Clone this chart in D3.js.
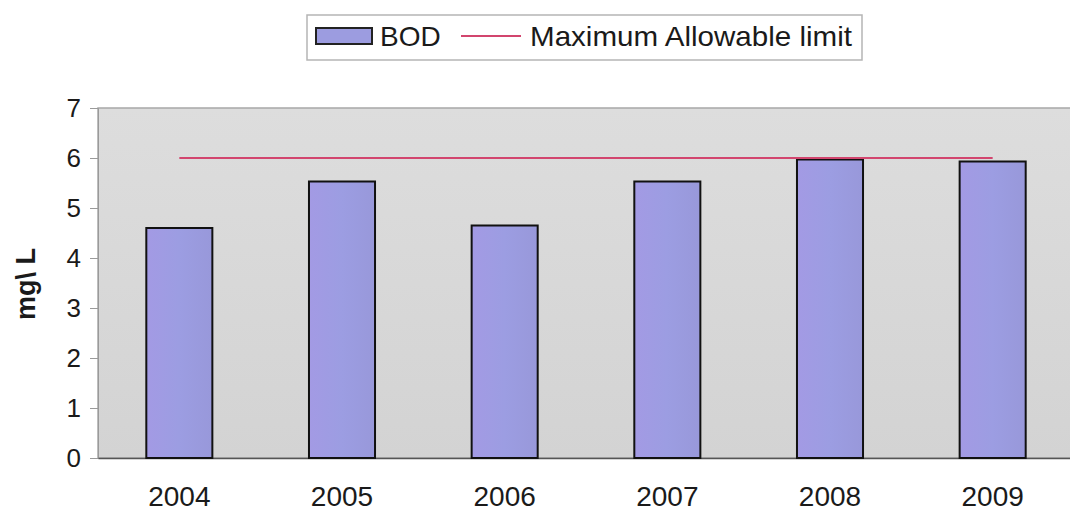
<!DOCTYPE html>
<html>
<head>
<meta charset="utf-8">
<script src="https://cdn.jsdelivr.net/npm/d3@7"></script>
<style>
  html, body { margin: 0; padding: 0; background: #fff; }
  svg { display: block; font-family: "Liberation Sans", Arial, sans-serif; }
</style>
</head>
<body>
<svg id="chart" width="1070" height="522"></svg>
<script>
// Annual BOD readings against the maximum allowable limit
const years = ["2004", "2005", "2006", "2007", "2008", "2009"];
const bodValues = [4.6, 5.53, 4.65, 5.53, 5.97, 5.93];
const limitValues = [6, 6, 6, 6, 6, 6];
const yTicks = [0, 1, 2, 3, 4, 5, 6, 7];

const svg = d3.select("#chart");
const plot = { left: 98, top: 108, right: 1074, bottom: 458 };

const x = d3.scaleBand()
  .domain(years)
  .range([plot.left, plot.right])
  .paddingInner(0.594)
  .paddingOuter(0.297);

const y = d3.scaleLinear()
  .domain([0, 7])
  .range([plot.bottom, plot.top]);

// plot area background
const defs = svg.append("defs");
const grad = defs.append("linearGradient")
  .attr("id", "plotBg").attr("x1", 0).attr("y1", 0).attr("x2", 0).attr("y2", 1);
grad.append("stop").attr("offset", "0%").attr("stop-color", "#dddddd");
grad.append("stop").attr("offset", "100%").attr("stop-color", "#d3d3d3");

const barGrad = defs.append("linearGradient")
  .attr("id", "barFill").attr("x1", 0).attr("y1", 0).attr("x2", 1).attr("y2", 0);
barGrad.append("stop").attr("offset", "0%").attr("stop-color", "#a39ae4");
barGrad.append("stop").attr("offset", "50%").attr("stop-color", "#9c9de2");
barGrad.append("stop").attr("offset", "100%").attr("stop-color", "#9898da");

svg.append("rect")
  .attr("x", plot.left).attr("y", plot.top)
  .attr("width", plot.right - plot.left).attr("height", plot.bottom - plot.top)
  .attr("fill", "url(#plotBg)")
  .attr("stroke", "#a8a8a8").attr("stroke-width", 1.5);

// y axis
const yAxis = svg.append("g")
  .attr("transform", `translate(${plot.left},0)`)
  .call(d3.axisLeft(y).tickValues(yTicks).tickSize(8).tickPadding(9).tickFormat(d3.format("d")));
yAxis.select(".domain").attr("stroke", "#9a9a9a");
yAxis.selectAll(".tick line").attr("stroke", "#9a9a9a");
yAxis.selectAll(".tick text")
  .attr("font-size", 26).attr("fill", "#1a1a1a")
  .attr("font-family", "Liberation Sans, Arial, sans-serif");

// x axis
const xAxis = svg.append("g")
  .attr("transform", `translate(0,${plot.bottom})`)
  .call(d3.axisBottom(x).tickSize(0).tickPadding(28));
xAxis.select(".domain").attr("stroke", "#555").attr("stroke-width", 1.5);
xAxis.selectAll(".tick text")
  .attr("font-size", 28).attr("fill", "#1a1a1a")
  .attr("font-family", "Liberation Sans, Arial, sans-serif");

// y axis title
svg.append("text")
  .attr("transform", `translate(35,284) rotate(-90)`)
  .attr("text-anchor", "middle")
  .attr("font-size", 27).attr("font-weight", "bold").attr("fill", "#1a1a1a")
  .text("mg\\ L");

// bars
svg.append("g").selectAll("rect")
  .data(years.map((yr, i) => ({ yr, v: bodValues[i] })))
  .join("rect")
  .attr("x", d => x(d.yr))
  .attr("y", d => y(d.v))
  .attr("width", x.bandwidth())
  .attr("height", d => y(0) - y(d.v))
  .attr("fill", "url(#barFill)")
  .attr("stroke", "#111")
  .attr("stroke-width", 2);

// limit line
const line = d3.line()
  .x(d => x(d.yr) + x.bandwidth() / 2)
  .y(d => y(d.v));
svg.append("path")
  .datum(years.map((yr, i) => ({ yr, v: limitValues[i] })))
  .attr("d", line)
  .attr("fill", "none")
  .attr("stroke", "#d2456e")
  .attr("stroke-width", 2);

// legend
const legend = svg.append("g");
legend.append("rect")
  .attr("x", 307).attr("y", 15).attr("width", 555).attr("height", 45)
  .attr("fill", "#fff").attr("stroke", "#b5b5b5").attr("stroke-width", 1.5);
legend.append("rect")
  .attr("x", 316).attr("y", 28).attr("width", 56).attr("height", 16)
  .attr("fill", "#9c9ce0").attr("stroke", "#222").attr("stroke-width", 2);
legend.append("text")
  .attr("x", 380).attr("y", 46)
  .attr("font-size", 28).attr("fill", "#1a1a1a")
  .text("BOD");
legend.append("line")
  .attr("x1", 461).attr("x2", 521).attr("y1", 36).attr("y2", 36)
  .attr("stroke", "#d2456e").attr("stroke-width", 2);
legend.append("text")
  .attr("x", 530).attr("y", 46)
  .attr("font-size", 28).attr("fill", "#1a1a1a")
  .attr("textLength", 322).attr("lengthAdjust", "spacingAndGlyphs")
  .text("Maximum Allowable limit");
</script>
</body>
</html>
